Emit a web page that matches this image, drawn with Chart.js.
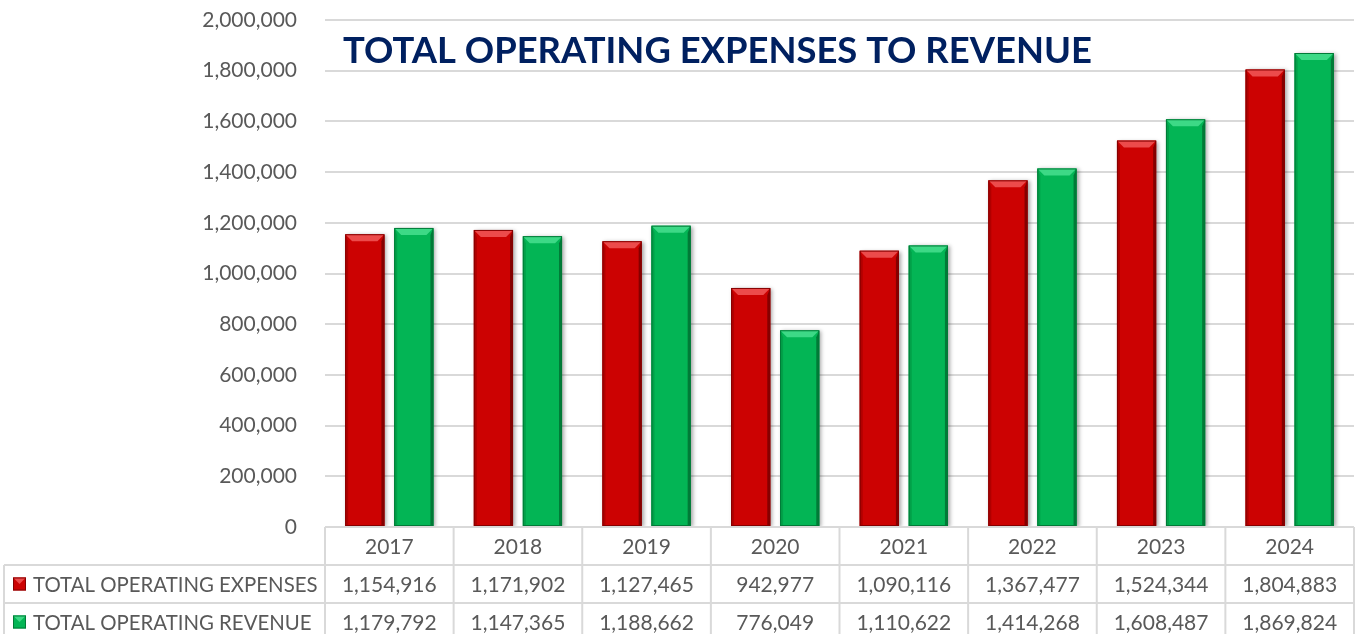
<!DOCTYPE html>
<html>
<head>
<meta charset="utf-8">
<script src="https://cdn.jsdelivr.net/npm/chart.js@4.4.1/dist/chart.umd.min.js"></script>
<style>
  html, body { margin: 0; padding: 0; background: #ffffff; }
  #wrap { width: 1356px; height: 634px; }
</style>
</head>
<body>
<div id="wrap"><canvas id="c" width="1356" height="634"></canvas></div>
<script>
const titleText = 'TOTAL OPERATING EXPENSES TO REVENUE';
const categories = ['2017', '2018', '2019', '2020', '2021', '2022', '2023', '2024'];
const seriesNames = ['TOTAL OPERATING EXPENSES', 'TOTAL OPERATING REVENUE'];
const expenses = [1154916, 1171902, 1127465, 942977, 1090116, 1367477, 1524344, 1804883];
const revenue = [1179792, 1147365, 1188662, 776049, 1110622, 1414268, 1608487, 1869824];
const yMin = 0;
const yMax = 2000000;
const yStep = 200000;

const palette = [
  { main: '#CC0202', light: '#EC4B4B', dark: '#850000', side: '#B00000' },
  { main: '#03B555', light: '#3DD986', dark: '#017A37', side: '#02A049' }
];
const fontFamily = 'Lato, "Open Sans", "Liberation Sans", sans-serif';
const textColor = '#595959';
const gridColor = '#D9D9D9';

const fmt = v => Number(v).toLocaleString('en-US');

const barDecor = {
  id: 'barDecor',
  beforeDatasetsDraw(chart) {
    const ctx = chart.ctx;
    ctx.save();
    ctx.shadowColor = 'rgba(0,0,0,0.35)';
    ctx.shadowBlur = 4;
    ctx.shadowOffsetX = 2;
    ctx.shadowOffsetY = 1;
  },
  afterDatasetsDraw(chart) {
    const ctx = chart.ctx;
    ctx.restore();
    chart.data.datasets.forEach((ds, di) => {
      const p = palette[di];
      chart.getDatasetMeta(di).data.forEach(el => {
        const l = el.x - el.width / 2, r = el.x + el.width / 2;
        const t = el.y, b = el.base;
        const bv = 7, sv = 3;
        ctx.beginPath();
        ctx.moveTo(l, t); ctx.lineTo(r, t); ctx.lineTo(r - bv, t + bv); ctx.lineTo(l + bv, t + bv); ctx.closePath();
        ctx.fillStyle = p.light; ctx.fill();
        ctx.beginPath();
        ctx.moveTo(r, t); ctx.lineTo(r, b); ctx.lineTo(r - sv, b); ctx.lineTo(r - sv, t + bv); ctx.closePath();
        ctx.fillStyle = p.dark; ctx.fill();
        ctx.beginPath();
        ctx.moveTo(l, t); ctx.lineTo(l + sv, t + bv); ctx.lineTo(l + sv, b); ctx.lineTo(l, b); ctx.closePath();
        ctx.fillStyle = p.side; ctx.fill();
        ctx.strokeStyle = p.dark; ctx.lineWidth = 1;
        ctx.strokeRect(l + 0.5, t + 0.5, el.width - 1, b - t - 1);
      });
    });
  }
};

const titlePlugin = {
  id: 'titleIn',
  afterDraw(chart) {
    const ctx = chart.ctx, ca = chart.chartArea;
    ctx.save();
    ctx.font = 'bold 36.4px ' + fontFamily;
    ctx.fillStyle = '#002060';
    ctx.textAlign = 'left';
    ctx.textBaseline = 'middle';
    ctx.fillText(titleText, ca.left + 18, ca.top + 31);
    ctx.restore();
  }
};

const tablePlugin = {
  id: 'dataTable',
  afterDraw(chart) {
    const ctx = chart.ctx, ca = chart.chartArea, xs = chart.scales.x;
    const n = categories.length;
    const colW = xs.getPixelForValue(1) - xs.getPixelForValue(0);
    const rowH = 38;
    const top = ca.bottom;
    const labelLeft = 4;
    const rows = [expenses, revenue];
    ctx.save();
    ctx.strokeStyle = gridColor;
    ctx.lineWidth = 2;
    ctx.beginPath();
    ctx.moveTo(ca.left, top); ctx.lineTo(ca.right, top);
    for (let r = 1; r <= 3; r++) {
      ctx.moveTo(labelLeft, top + r * rowH); ctx.lineTo(ca.right, top + r * rowH);
    }
    for (let i = 0; i <= n; i++) {
      const x = xs.getPixelForValue(0) - colW / 2 + i * colW;
      ctx.moveTo(x, top); ctx.lineTo(x, top + 3 * rowH);
    }
    ctx.moveTo(labelLeft, top + rowH); ctx.lineTo(labelLeft, top + 3 * rowH);
    ctx.stroke();

    ctx.font = '21px ' + fontFamily;
    ctx.fillStyle = textColor;
    ctx.textBaseline = 'middle';
    ctx.textAlign = 'center';
    categories.forEach((c, i) => {
      ctx.fillText(c, xs.getPixelForValue(i), top + rowH / 2 + 1);
    });
    rows.forEach((vals, r) => {
      const cy = top + (r + 1) * rowH + rowH / 2 + 1;
      ctx.font = '21px ' + fontFamily;
      ctx.textAlign = 'center';
      ctx.fillStyle = textColor;
      vals.forEach((v, i) => ctx.fillText(fmt(v), xs.getPixelForValue(i), cy));
      const p = palette[r];
      const kx = 13, ks = 13, ky = cy - ks / 2 - 1;
      ctx.fillStyle = p.main; ctx.fillRect(kx, ky, ks, ks);
      ctx.beginPath();
      ctx.moveTo(kx, ky); ctx.lineTo(kx + ks, ky); ctx.lineTo(kx + ks / 2, ky + ks / 2); ctx.closePath();
      ctx.fillStyle = p.light; ctx.fill();
      ctx.strokeStyle = p.dark; ctx.lineWidth = 1;
      ctx.strokeRect(kx + 0.5, ky + 0.5, ks - 1, ks - 1);
      ctx.font = '20.4px ' + fontFamily;
      ctx.textAlign = 'left';
      ctx.fillStyle = textColor;
      ctx.fillText(seriesNames[r], 33, cy);
    });
    ctx.restore();
  }
};

new Chart(document.getElementById('c'), {
  type: 'bar',
  data: {
    labels: categories,
    datasets: [
      { label: seriesNames[0], data: expenses, backgroundColor: palette[0].main, borderWidth: 0 },
      { label: seriesNames[1], data: revenue, backgroundColor: palette[1].main, borderWidth: 0 }
    ]
  },
  options: {
    responsive: false,
    animation: false,
    devicePixelRatio: 1,
    layout: { padding: { top: 20, right: 2, bottom: 107, left: 0 } },
    datasets: { bar: { categoryPercentage: 0.762, barPercentage: 0.8 } },
    plugins: { legend: { display: false }, title: { display: false }, tooltip: { enabled: false } },
    scales: {
      x: { display: false },
      y: {
        min: yMin, max: yMax,
        afterFit: s => { s.width = 325; s.paddingTop = 0; s.paddingBottom = 0; },
        border: { display: false },
        grid: { color: gridColor, lineWidth: 2, drawTicks: false },
        ticks: {
          stepSize: yStep,
          padding: 28,
          color: textColor,
          font: { family: fontFamily, size: 21 },
          callback: v => fmt(v)
        }
      }
    }
  },
  plugins: [barDecor, titlePlugin, tablePlugin]
});
</script>
</body>
</html>
